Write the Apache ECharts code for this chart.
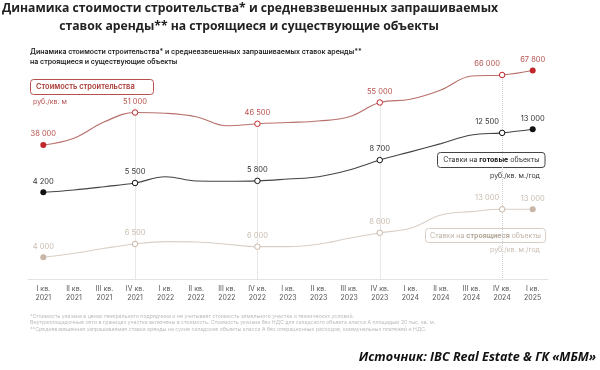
<!DOCTYPE html>
<html>
<head>
<meta charset="utf-8">
<script src="https://cdn.jsdelivr.net/npm/echarts@6/dist/echarts.min.js"></script>
<style>html,body{margin:0;padding:0;background:#fff;}#c{width:600px;height:370px;}</style>
</head>
<body>
<div id="c"></div>
<script>
const categories = ['I кв.\n2021','II кв.\n2021','III кв.\n2021','IV кв.\n2021','I кв.\n2022','II кв.\n2022','III кв.\n2022','IV кв.\n2022','I кв.\n2023','II кв.\n2023','III кв.\n2023','IV кв.\n2023','I кв.\n2024','II кв.\n2024','III кв.\n2024','IV кв.\n2024','I кв.\n2025'];
const constructionCost = [38000, 40700, 47300, 51000, 50700, 49300, 45700, 46500, 47000, 47600, 49300, 55000, 56300, 60000, 65600, 66000, 67800];
const readyRent = [4200, 4520, 4980, 5500, 6380, 5780, 5740, 5800, 6060, 6380, 7320, 8700, 9850, 11000, 12200, 12500, 13000];
const buildingRent = [4000, 4750, 5690, 6500, 6930, 6870, 6440, 6000, 6000, 6440, 7560, 8600, 9440, 11930, 12560, 13000, 13000];
const labeledIdx = [0, 3, 7, 11, 15, 16];
const endIdx = [0, 16];
const guideIdx = [3, 7, 11, 15];

const costAxis = {min: -15600, max: 84000};
const readyAxis = {min: -7910, max: 26870};
const buildAxis = {min: -70, max: 46620};

const FONT = 'Inter';
function fmt(v){ return String(v).replace(/\B(?=(\d{3})+(?!\d))/g, ' '); }

function buildData(values, color, labelColor){
  return values.map((v, i) => {
    const lab = labeledIdx.indexOf(i) >= 0;
    const end = endIdx.indexOf(i) >= 0;
    return {
      value: v,
      symbol: lab ? 'circle' : 'none',
      symbolSize: end ? 6 : 5.5,
      itemStyle: end ? {color: color, borderColor: color, borderWidth: 0}
                     : {color: '#fff', borderColor: color, borderWidth: 1},
      label: {
        show: lab,
        position: 'top',
        distance: 4,
        offset: i === 15 ? [-15, 0] : [0, 0],
        formatter: p => fmt(p.value),
        color: labelColor,
        fontSize: 7.5,
        fontFamily: FONT
      }
    };
  });
}

const chart = echarts.init(document.getElementById('c'), null, {renderer: 'canvas'});
const option = {
  animation: false,
  backgroundColor: '#fff',
  grid: {left: 28, right: 52, top: 30, bottom: 91},
  xAxis: {
    type: 'category',
    data: categories,
    boundaryGap: true,
    axisLine: {onZero: false, lineStyle: {color: '#e3e3e3', width: 1}},
    axisTick: {show: false},
    axisLabel: {fontSize: 7, lineHeight: 9.5, color: '#555', margin: 5, fontFamily: FONT, interval: 0}
  },
  yAxis: [
    Object.assign({type: 'value', show: false, splitLine: {show: false}}, costAxis),
    Object.assign({type: 'value', show: false, splitLine: {show: false}}, readyAxis),
    Object.assign({type: 'value', show: false, splitLine: {show: false}}, buildAxis)
  ],
  series: [
    {
      name: 'Стоимость строительства',
      type: 'line', yAxisIndex: 0, smooth: 0.4, z: 5,
      lineStyle: {color: '#b8716c', width: 1.2},
      itemStyle: {color: '#c0262b'},
      data: buildData(constructionCost, '#c0262b', '#b5504c'),
      markLine: {
        silent: true, symbol: 'none', z: 1,
        lineStyle: {color: '#d0d0d0', type: 'dotted', width: 1},
        label: {show: false},
        data: guideIdx.map(i => [{coord: [i, constructionCost[i]]}, {coord: [i, costAxis.min]}])
      }
    },
    {
      name: 'Ставки на готовые объекты',
      type: 'line', yAxisIndex: 1, smooth: 0.4, z: 5,
      lineStyle: {color: '#444', width: 1.1},
      itemStyle: {color: '#111'},
      data: buildData(readyRent, '#111', '#333')
    },
    {
      name: 'Ставки на строящиеся объекты',
      type: 'line', yAxisIndex: 2, smooth: 0.4, z: 5,
      lineStyle: {color: '#d9cfc6', width: 1.1},
      itemStyle: {color: '#c9b5a5'},
      data: buildData(buildingRent, '#c9b5a5', '#c8bcb0')
    }
  ],
  graphic: [
    {type: 'text', x: 250, y: 9, style: {text: 'Динамика стоимости строительства* и средневзвешенных запрашиваемых', font: 'bold 12.2px "Open Sans"', fill: '#222', align: 'center', verticalAlign: 'middle'}},
    {type: 'text', x: 249, y: 27, style: {text: 'ставок аренды** на строящиеся и существующие объекты', font: 'bold 12.2px "Open Sans"', fill: '#222', align: 'center', verticalAlign: 'middle'}},
    {type: 'text', x: 30, y: 51.7, style: {text: 'Динамика стоимости строительства* и средневзвешенных запрашиваемых ставок аренды**', font: '600 7px ' + FONT, fill: '#222', verticalAlign: 'middle'}},
    {type: 'text', x: 30, y: 61.7, style: {text: 'на строящиеся и существующие объекты', font: '600 7px ' + FONT, fill: '#222', verticalAlign: 'middle'}},

    {type: 'rect', shape: {x: 30.5, y: 79.5, width: 123, height: 15, r: 3}, style: {fill: '#fff', stroke: '#b5504c', lineWidth: 1}},
    {type: 'text', x: 36, y: 87, style: {text: 'Стоимость строительства', font: '600 7.5px ' + FONT, fill: '#a83a37', verticalAlign: 'middle'}},
    {type: 'text', x: 33, y: 101.7, style: {text: 'руб./кв. м', font: '7px ' + FONT, fill: '#b5504c', verticalAlign: 'middle'}},

    {type: 'rect', shape: {x: 437.5, y: 152.5, width: 107.5, height: 15, r: 3}, style: {fill: '#fff', stroke: '#444', lineWidth: 1}},
    {type: 'text', x: 491.3, y: 160, style: {text: 'Ставки на {b|готовые} объекты', font: '7px ' + FONT, fill: '#333', align: 'center', verticalAlign: 'middle', rich: {b: {fontWeight: 'bold', fontSize: 7, fontFamily: FONT, fill: '#111'}}}},
    {type: 'text', x: 540, y: 175.7, style: {text: 'руб./кв. м./год', font: '7px ' + FONT, fill: '#333', align: 'right', verticalAlign: 'middle'}},

    {type: 'rect', shape: {x: 425.5, y: 228.5, width: 120, height: 14, r: 3}, style: {fill: '#fff', stroke: '#d9cec3', lineWidth: 1}},
    {type: 'text', x: 485.5, y: 235.5, style: {text: 'Ставки на {b|строящиеся} объекты', font: '7px ' + FONT, fill: '#bfb2a5', align: 'center', verticalAlign: 'middle', rich: {b: {fontWeight: 'bold', fontSize: 7, fontFamily: FONT, fill: '#b5a799'}}}},
    {type: 'text', x: 540, y: 250, style: {text: 'руб./кв. м./год', font: '7px ' + FONT, fill: '#c8bcb0', align: 'right', verticalAlign: 'middle'}},

    {type: 'text', x: 30, y: 316, style: {text: '*Стоимость указана в ценах генерального подрядчика и не учитывает стоимость земельного участка и технических условий.', font: '5.2px ' + FONT, fill: '#bbb', verticalAlign: 'middle'}},
    {type: 'text', x: 30, y: 322.5, style: {text: 'Внутриплощадочные сети в границах участка включены в стоимость. Стоимость указана без НДС для складского объекта класса А площадью 20 тыс. кв. м.', font: '5.2px ' + FONT, fill: '#bbb', verticalAlign: 'middle'}},
    {type: 'text', x: 30, y: 329, style: {text: '**Средневзвешенная запрашиваемая ставка аренды на сухие складские объекты класса А без операционных расходов, коммунальных платежей и НДС.', font: '5.2px ' + FONT, fill: '#bbb', verticalAlign: 'middle'}},

    {type: 'text', x: 596, y: 357, style: {text: 'Источник: IBC Real Estate & ГК «МБМ»', font: 'italic bold 12.6px "Open Sans"', fill: '#111', align: 'right', verticalAlign: 'middle'}}
  ]
};
chart.setOption(option);
</script>
</body>
</html>
